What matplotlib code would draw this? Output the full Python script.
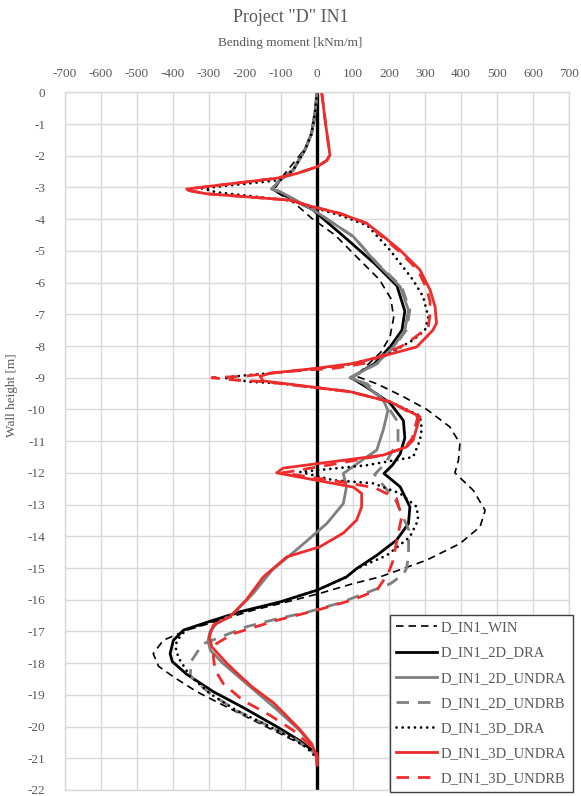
import matplotlib
matplotlib.use("Agg")
import matplotlib.pyplot as plt

plt.rcParams['font.family'] = ['Liberation Serif', 'DejaVu Serif']
plt.rcParams['axes.unicode_minus'] = False

# --- data (bending moment kNm/m vs wall height m) ---
win_z = [0, -1.0, -1.7, -2.1, -2.6, -3.0, -3.15, -3.5, -3.97, -4.5, -5.3, -5.9, -6.5, -7.1,
         -7.7, -8.2, -8.6, -8.95, -9.2, -9.6, -10.0, -10.55, -11.07, -11.6, -12.0, -12.55,
         -13.18, -13.7, -14.23, -14.75, -15.28, -15.49, -15.8, -16.07, -16.33, -16.65,
         -16.96, -17.28, -17.7, -18.1, -18.43, -18.9, -19.38, -19.8, -20.22, -20.54, -20.85, -21.0]
win_m = [0, -8, -28, -56, -92, -115, -112, -62, -15, 50, 120, 173, 205, 213,
         203, 177, 140, 108, 168, 240, 305, 369, 397, 393, 383, 434,
         467, 453, 397, 305, 175, 101, 8, -84, -177, -270,
         -362, -427, -455, -440, -399, -334, -251, -177, -103, -47, -3, 0]

dra2_z = [0, -0.6, -1.3, -1.8, -2.45, -2.77, -3.05, -3.15, -3.7, -4.6, -5.4, -6.1, -6.9, -7.5,
          -8.0, -8.55, -9.0, -9.3, -9.8, -10.35, -10.9, -11.4, -11.75, -12.02, -12.44, -13.07,
          -13.6, -14.12, -14.6, -15.02, -15.28, -15.7, -16.07, -16.38, -16.75, -16.96, -17.28,
          -17.7, -17.95, -18.35, -18.9, -19.4, -20.0, -20.45, -20.85, -21.1]
dra2_m = [0, -5, -15, -33, -66, -103, -124, -108, -12, 80, 160, 222, 244, 236,
          205, 160, 95, 138, 203, 240, 244, 231, 210, 186, 231, 258,
          254, 221, 166, 110, 82, 0, -103, -214, -316, -371, -399,
          -408, -402, -362, -288, -205, -112, -47, -2, 0]

undra2_z = [0, -0.6, -1.3, -1.8, -2.45, -2.77, -3.05, -3.13, -3.71, -4.55, -5.4, -6.13, -6.87,
            -7.5, -8.03, -8.55, -9.0, -9.17, -9.7, -10.03, -10.65, -11.28, -11.65, -12.02,
            -12.44, -12.97, -13.6, -14.33, -15.07, -15.8, -16.43, -16.75, -17.0, -17.3, -17.6,
            -18.0, -18.75, -19.5, -20.1, -20.55, -20.95, -21.2]
undra2_m = [0, -5, -15, -33, -66, -103, -126, -103, -10, 101, 166, 231, 254,
            244, 212, 166, 92, 128, 184, 197, 184, 166, 119, 73,
            82, 73, 27, -47, -125, -177, -232, -279, -297, -303, -296,
            -262, -185, -108, -50, -16, 0, 0]

undrb2_z = [0, -0.6, -1.3, -1.8, -2.45, -2.77, -3.05, -3.13, -3.71, -4.55, -5.4, -6.13, -6.87,
            -7.5, -8.03, -8.55, -9.0, -9.2, -9.7, -10.4, -11.0, -11.7, -12.05, -12.9, -13.8,
            -14.6, -15.0, -15.2, -15.5, -15.7, -16.1, -16.4, -16.6, -16.85, -17.4, -17.95,
            -18.4, -18.96, -19.5, -19.9, -20.4, -20.85, -21.1]
undrb2_m = [0, -5, -15, -33, -66, -103, -126, -103, -10, 101, 168, 235, 258,
            248, 214, 168, 92, 140, 184, 225, 225, 190, 160, 220, 255,
            254, 249, 240, 203, 156, 64, -29, -110, -195, -318, -350,
            -352, -297, -223, -149, -60, -5, 0]

dra3_z = [0, -0.6, -1.3, -1.8, -2.45, -2.77, -3.03, -3.15, -3.42, -3.65, -3.9, -4.2, -4.98,
          -5.92, -6.45, -7.08, -7.5, -7.81, -8.29, -8.6, -8.81, -8.92, -9.0, -9.13, -9.17,
          -9.44, -9.76, -10.2, -10.6, -10.97, -11.5, -11.76, -11.97, -12.23, -12.33, -12.65,
          -13.07, -13.49, -14.02, -14.6, -15.02, -15.3, -15.7, -16.07, -16.38, -16.75, -16.96,
          -17.3, -17.6, -17.9, -18.4, -18.96, -19.5, -19.9, -20.3, -20.65, -21.0]
dra3_m = [0, -5, -15, -33, -66, -103, -320, -280, -70, -5, 70, 140, 203,
          267, 295, 309, 300, 267, 194, 82, -84, -195, -260, -186, -111,
          92, 203, 286, 291, 286, 267, 138, -47, 45, 156, 231,
          277, 281, 258, 194, 110, 80, 0, -100, -210, -310, -365,
          -390, -392, -381, -353, -297, -223, -149, -80, -30, 0]

undra3_z = [0, -1.0, -1.98, -2.15, -2.35, -2.56, -2.71, -3.05, -3.1, -3.2, -3.4, -3.61, -3.82,
            -4.13, -4.5, -4.98, -5.6, -6.23, -6.76, -7.28, -7.5, -8.03, -8.34, -8.55, -8.7,
            -8.86, -8.95, -9.1, -9.44, -9.76, -10.23, -10.97, -11.18, -11.44, -11.85, -12.0,
            -12.45, -12.65, -13.07, -13.49, -13.9, -14.33, -14.65, -15.28, -16.0, -16.54,
            -16.8, -17.17, -17.49, -18.0, -18.4, -18.75, -19.25, -19.6, -20.1, -20.54, -20.96, -21.22]
undra3_m = [13, 24, 36, 27, 0, -56, -112, -362, -355, -306, -75, -11, 64,
            138, 180, 231, 286, 314, 328, 332, 322, 277, 175, 100, 0,
            -130, -158, -150, 92, 203, 286, 267, 249, 184, -94, -112,
            101, 124, 124, 110, 73, 8, -84, -149, -196, -242,
            -288, -299, -292, -251, -214, -180, -121, -90, -47, -15, 0, 0]

undrb3_z = [0, -1.0, -1.98, -2.15, -2.35, -2.56, -2.71, -3.05, -3.1, -3.2, -3.4, -3.61, -3.82,
            -4.13, -4.5, -4.98, -5.6, -6.2, -6.6, -7.0, -7.4, -7.92, -8.25, -8.55, -8.7,
            -8.76, -8.83, -8.95, -9.0, -9.08, -9.12, -9.44, -9.76, -10.23, -10.9, -11.2,
            -11.45, -11.7, -12.0, -12.32, -12.47, -12.81, -13.39, -14.02, -14.81, -15.17,
            -15.7, -16.0, -16.33, -16.65, -17.07, -17.38, -17.8, -18.22, -18.65, -19.18,
            -19.64, -20.12, -20.54, -20.85, -21.1]
undrb3_m = [13, 24, 36, 27, 0, -56, -112, -360, -355, -306, -75, -11, 64,
            138, 175, 225, 280, 305, 314, 314, 309, 250, 190, 130, 50,
            -30, -110, -200, -292, -220, -150, 92, 203, 280, 265, 245,
            180, 60, -95, 87, 161, 221, 235, 224, 210, 198,
            166, 101, 0, -112, -232, -279, -288, -283, -260, -205,
            -131, -66, -24, 0, 0]

labels = ["D_IN1_WIN", "D_IN1_2D_DRA", "D_IN1_2D_UNDRA", "D_IN1_2D_UNDRB",
          "D_IN1_3D_DRA", "D_IN1_3D_UNDRA", "D_IN1_3D_UNDRB"]

grey = "#7f7f7f"
red = "#ee2c2c"
text_col = "#595959"

fig = plt.figure(figsize=(5.81, 7.96), dpi=100)
ax = fig.add_axes([65 / 581, 1 - 790 / 796, 504 / 581, (790 - 92.3) / 796])

ax.set_xlim(-700, 700)
ax.set_ylim(-22, 0)
ax.set_xticks(range(-700, 701, 100))
ax.set_yticks(range(-22, 1, 1))
ax.grid(True, color="#d9d9d9", linewidth=1.0)
ax.set_axisbelow(True)
for s in ax.spines.values():
    s.set_color("#d9d9d9")
    s.set_linewidth(1.0)
ax.xaxis.set_ticks_position("top")
ax.tick_params(axis="x", length=0, pad=9, labelsize=9.5, labelcolor=text_col)
ax.tick_params(axis="y", length=0, pad=14, labelsize=9.5, labelcolor=text_col)

# vertical value axis at x = 0
ax.axvline(0, color="black", linewidth=2.4, zorder=1.5)

ax.plot(win_m, win_z, color="black", linewidth=1.2, dashes=(4.5, 3), label=labels[0])
ax.plot(dra2_m, dra2_z, color="black", linewidth=2.0, label=labels[1])
ax.plot(undra2_m, undra2_z, color=grey, linewidth=2.0, label=labels[2])
ax.plot(undrb2_m, undrb2_z, color=grey, linewidth=2.0, dashes=(4.5, 3.2), label=labels[3])
ax.plot(dra3_m, dra3_z, color="black", linewidth=2.0, dashes=(0.01, 2.2),
        dash_capstyle="round", label=labels[4])
ax.plot(undra3_m, undra3_z, color=red, linewidth=2.0, label=labels[5])
ax.plot(undrb3_m, undrb3_z, color=red, linewidth=2.0, dashes=(4.5, 3.2), label=labels[6])

leg = ax.legend(loc="lower right", bbox_to_anchor=(573 / 581, 1 - 792 / 796),
                bbox_transform=fig.transFigure, fontsize=10.5, frameon=True,
                fancybox=False, framealpha=1, edgecolor="#404040",
                handlelength=2.8, handletextpad=0.25, labelspacing=0.82,
                borderpad=0.45, borderaxespad=0)
leg.get_frame().set_linewidth(1.0)
for t in leg.get_texts():
    t.set_color(text_col)

fig.text(0.5, 1 - 18 / 796, 'Project "D" IN1', ha="center", va="center",
         fontsize=13, color=text_col)
fig.text(0.5, 1 - 43 / 796, "Bending moment [kNm/m]", ha="center", va="center",
         fontsize=9.5, color=text_col)
fig.text(12 / 581, 1 - 395 / 796, "Wall height [m]", ha="center", va="center",
         rotation=90, fontsize=9.5, color=text_col)

fig.savefig("out.png", dpi=100)
